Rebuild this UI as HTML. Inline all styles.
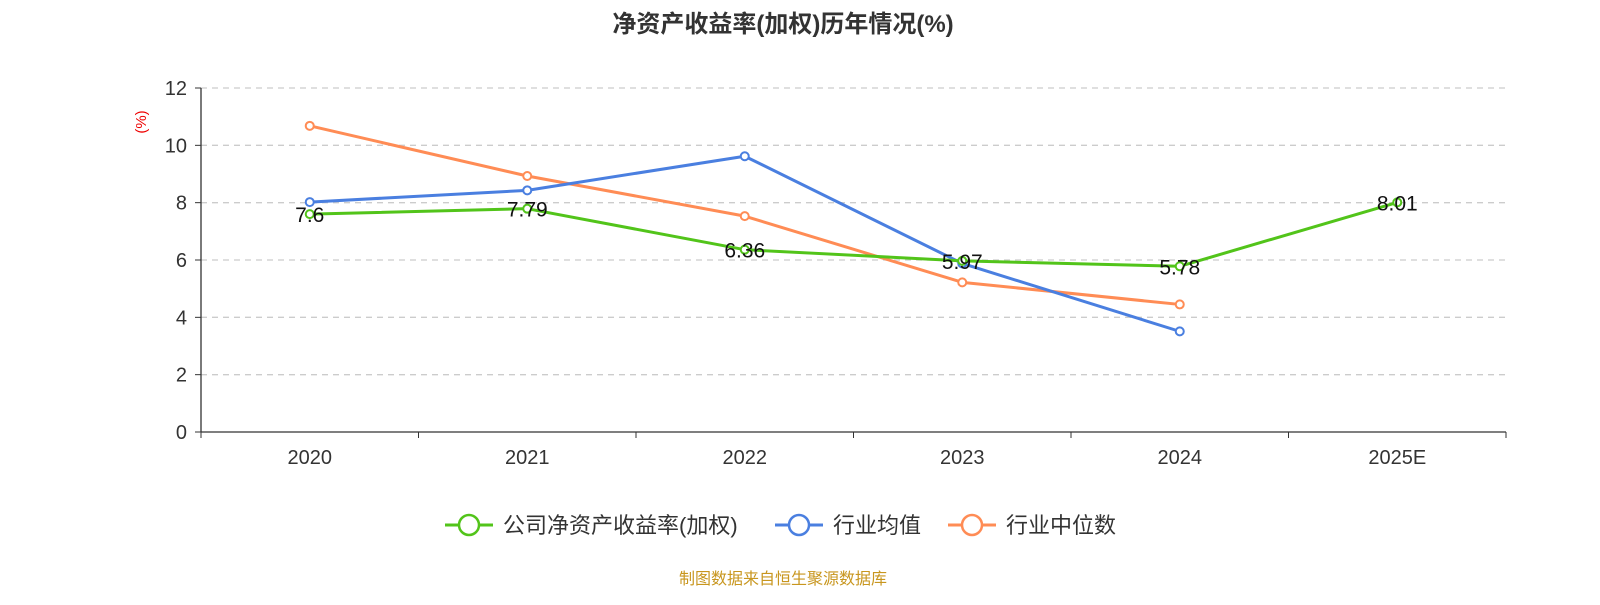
<!DOCTYPE html>
<html><head><meta charset="utf-8"><style>
body{margin:0;background:#fff;}
svg text{font-family:"Liberation Sans","Noto Sans CJK SC",sans-serif;}
</style></head><body>
<svg id="c" width="1600" height="600" xmlns="http://www.w3.org/2000/svg">
<text x="783" y="32" text-anchor="middle" font-size="24" font-weight="bold" fill="#333">净资产收益率(加权)历年情况(%)</text>
<text transform="translate(146,122) rotate(-90)" text-anchor="middle" font-size="15" fill="#e00">(%)</text>
<g id="grid"></g><g id="axes"></g><g id="series"></g><g id="labels"></g>
<g>
<g><line x1="445" y1="525" x2="493" y2="525" stroke="#52c41a" stroke-width="3"/><circle cx="469" cy="525" r="10" fill="#fff" stroke="#52c41a" stroke-width="2.5"/><text x="503" y="533" font-size="22" fill="#333">公司净资产收益率(加权)</text></g>
<g><line x1="775" y1="525" x2="823" y2="525" stroke="#4a7fe0" stroke-width="3"/><circle cx="799" cy="525" r="10" fill="#fff" stroke="#4a7fe0" stroke-width="2.5"/><text x="833" y="533" font-size="22" fill="#333">行业均值</text></g>
<g><line x1="948" y1="525" x2="996" y2="525" stroke="#ff8c55" stroke-width="3"/><circle cx="972" cy="525" r="10" fill="#fff" stroke="#ff8c55" stroke-width="2.5"/><text x="1006" y="533" font-size="22" fill="#333">行业中位数</text></g>
</g>
<text x="783" y="584" text-anchor="middle" font-size="16" fill="#c8961e">制图数据来自恒生聚源数据库</text>
</svg>
<script>
const categories=["2020","2021","2022","2023","2024","2025E"];
const companyValues=[7.6,7.79,6.36,5.97,5.78,8.01];
const companyLabels=["7.6","7.79","6.36","5.97","5.78","8.01"];
const industryAvg=[8.02,8.43,9.62,5.88,3.51];
const industryMedian=[10.68,8.93,7.53,5.22,4.45];
const yTicks=[0,2,4,6,8,10,12];
const NS="http://www.w3.org/2000/svg";
const X0=201,X1=1506,Y0=432,Y1=88,YMAX=12;
const bw=(X1-X0)/categories.length;
const xs=i=>X0+bw*(i+0.5);
const ys=v=>Y0-(v/YMAX)*(Y0-Y1);
function mk(tag,attrs,parent,txt){const e=document.createElementNS(NS,tag);for(const k in attrs)e.setAttribute(k,attrs[k]);if(txt!==undefined)e.textContent=txt;document.getElementById(parent).appendChild(e);return e;}
yTicks.forEach(t=>{
 if(t>0){const g=mk('line',{x1:X0,x2:X1,y1:ys(t),y2:ys(t),stroke:'#ccc','stroke-dasharray':'6,5','stroke-width':1.3},'grid');
 
 }
 const tk=mk('line',{x1:X0-6,x2:X0,y1:ys(t),y2:ys(t),stroke:'#333'},'axes');
 
 
 const l=mk('text',{x:X0-14,y:ys(t)+7,'text-anchor':'end','font-size':20,fill:'#333'},'axes',String(t));
 
 
});
const ya=mk('line',{x1:X0,x2:X0,y1:Y1,y2:Y0,stroke:'#333','stroke-width':1.3},'axes');


const xa=mk('line',{x1:X0,x2:X1,y1:Y0,y2:Y0,stroke:'#333','stroke-width':1.3},'axes');


for(let i=0;i<=categories.length;i++){const t=mk('line',{x1:X0+bw*i,x2:X0+bw*i,y1:Y0,y2:Y0+6,stroke:'#333'},'axes');
 
 }
categories.forEach((c,i)=>{const t=mk('text',{x:xs(i),y:464,'text-anchor':'middle','font-size':20,fill:'#333'},'axes',c);
 
 });
function series(vals,color,name){
 const p=mk('polyline',{points:vals.map((v,i)=>xs(i)+','+ys(v)).join(' '),fill:'none',stroke:color,'stroke-width':3,'stroke-linejoin':'round'},'series');
 
 
 vals.forEach((v,i)=>{const c=mk('circle',{cx:xs(i),cy:ys(v),r:4,fill:'#fff',stroke:color,'stroke-width':2},'series');
 
 });
}
series(industryMedian,'#ff8c55','industry-median');
series(industryAvg,'#4a7fe0','industry-average');
series(companyValues,'#52c41a','company');
companyValues.forEach((v,i)=>{const t=mk('text',{x:xs(i),y:ys(v)+8,'text-anchor':'middle','font-size':21,fill:'#111'},'labels',companyLabels[i]);
 
 });
</script>
</body></html>
